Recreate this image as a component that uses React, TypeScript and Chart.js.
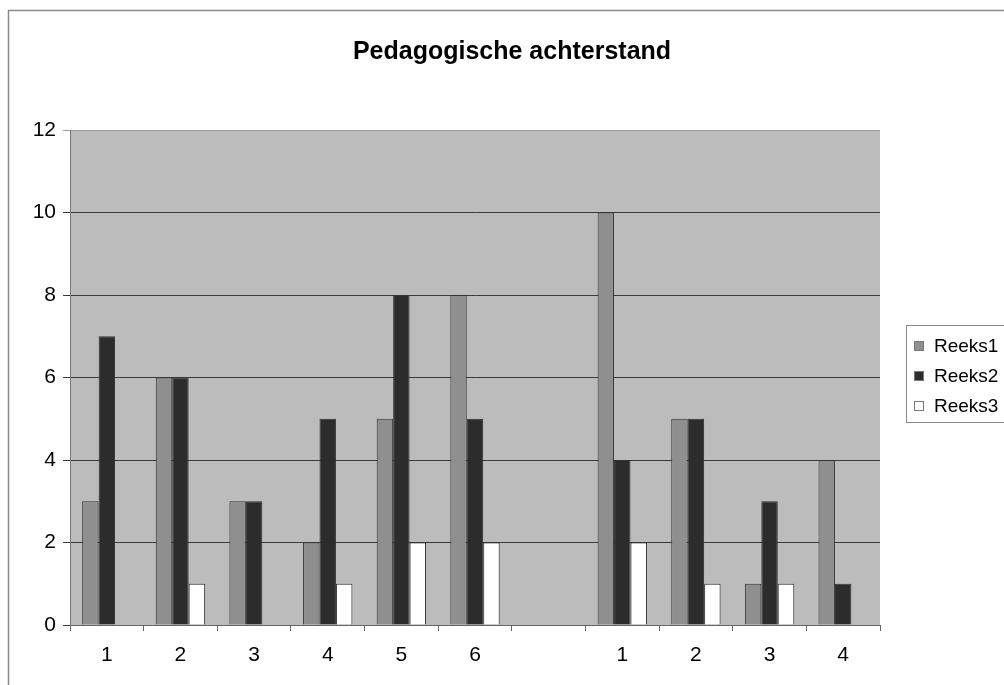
import React, { useEffect, useRef } from "react";
import { Chart, registerables } from "chart.js";

Chart.register(...registerables);

const categories = ["1", "2", "3", "4", "5", "6", "", "1", "2", "3", "4"];
const reeks1 = [3, 6, 3, 2, 5, 8, null, 10, 5, 1, 4];
const reeks2 = [7, 6, 3, 5, 8, 5, null, 4, 5, 3, 1];
const reeks3 = [0, 1, 0, 1, 2, 2, null, 2, 1, 1, 0];
const seriesNames = ["Reeks1", "Reeks2", "Reeks3"];
const seriesColors = ["#8f8f8f", "#2c2c2c", "#ffffff"];
const yTicks = [0, 2, 4, 6, 8, 10, 12];
const titleText = "Pedagogische achterstand";

const FONT = "'Liberation Sans', Arial, sans-serif";

const framePlugin = {
  id: "frameAndBg",
  beforeDraw(chart: any) {
    const { ctx, chartArea } = chart;
    ctx.save();
    ctx.fillStyle = "#ffffff";
    ctx.fillRect(0, 0, chart.width, chart.height);
    ctx.strokeStyle = "#8a8a8a";
    ctx.lineWidth = 1.5;
    ctx.beginPath();
    ctx.moveTo(8.5, chart.height);
    ctx.lineTo(8.5, 10.5);
    ctx.lineTo(chart.width, 10.5);
    ctx.stroke();
    ctx.fillStyle = "#bcbcbc";
    ctx.fillRect(chartArea.left, chartArea.top, chartArea.right - chartArea.left, chartArea.bottom - chartArea.top);
    ctx.restore();
  },
};

const titlePlugin = {
  id: "centerTitle",
  afterDraw(chart: any) {
    const { ctx } = chart;
    ctx.save();
    ctx.font = `bold 25px ${FONT}`;
    ctx.fillStyle = "#000";
    ctx.textAlign = "center";
    ctx.textBaseline = "alphabetic";
    ctx.fillText(titleText, 512, 59);
    ctx.restore();
  },
};

const legendPlugin = {
  id: "boxLegend",
  afterDraw(chart: any) {
    const { ctx } = chart;
    const ds = chart.data.datasets;
    ctx.save();
    ctx.strokeStyle = "#8a8a8a";
    ctx.lineWidth = 1;
    ctx.strokeRect(906.5, 325.5, 120, 97);
    ctx.font = `19px ${FONT}`;
    ctx.textBaseline = "middle";
    ctx.textAlign = "left";
    ds.forEach((d: any, i: number) => {
      const cy = 346 + i * 30;
      ctx.fillStyle = d.backgroundColor;
      ctx.fillRect(914.5, cy - 4.5, 9, 9);
      ctx.strokeStyle = "#777";
      ctx.strokeRect(914.5, cy - 4.5, 9, 9);
      ctx.fillStyle = "#000";
      ctx.fillText(d.label, 934, cy + 1);
    });
    ctx.restore();
  },
};

export default function App() {
  const ref = useRef<HTMLCanvasElement | null>(null);
  useEffect(() => {
    if (!ref.current) return;
    const series = [reeks1, reeks2, reeks3];
    const chart = new Chart(ref.current, {
      type: "bar",
      data: {
        labels: categories,
        datasets: series.map((s, i) => ({
          label: seriesNames[i],
          data: s,
          backgroundColor: seriesColors[i],
          borderColor: "#333333",
          borderWidth: 1,
          categoryPercentage: 0.67,
          barPercentage: 1,
        })),
      },
      options: {
        animation: false,
        responsive: false,
        devicePixelRatio: 1,
        layout: { padding: { left: 0, right: 124, top: 130, bottom: 0 } },
        plugins: {
          legend: { display: false },
          tooltip: { enabled: false },
          title: { display: false },
        },
        scales: {
          x: {
            grid: {
              offset: true,
              drawOnChartArea: false,
              drawTicks: true,
              tickLength: 6,
              color: "#666",
            },
            border: { display: true, color: "#666", width: 1 },
            ticks: {
              color: "#000",
              font: { family: FONT, size: 21 },
              padding: 12,
              maxRotation: 0,
              autoSkip: false,
            },
            afterFit(scale: any) {
              scale.height = 60;
            },
          },
          y: {
            min: 0,
            max: 12,
            afterBuildTicks(scale: any) {
              scale.ticks = yTicks.map((v) => ({ value: v }));
            },
            grid: {
              color: (c: any) => (c.tick && c.tick.value === 12 ? "#9a9a9a" : "#3a3a3a"),
              tickLength: 7,
              lineWidth: 1,
            },
            border: { display: true, color: "#777", width: 1 },
            ticks: {
              color: "#000",
              font: { family: FONT, size: 21 },
              padding: 7,
              stepSize: 2,
            },
            afterFit(scale: any) {
              scale.width = 70;
            },
          },
        },
      },
      plugins: [framePlugin, titlePlugin, legendPlugin],
    });
    return () => chart.destroy();
  }, []);
  return (
    <div style={{ position: "absolute", left: 0, top: 0, width: 1004, height: 685 }}>
      <canvas ref={ref} width={1004} height={685} />
    </div>
  );
}
